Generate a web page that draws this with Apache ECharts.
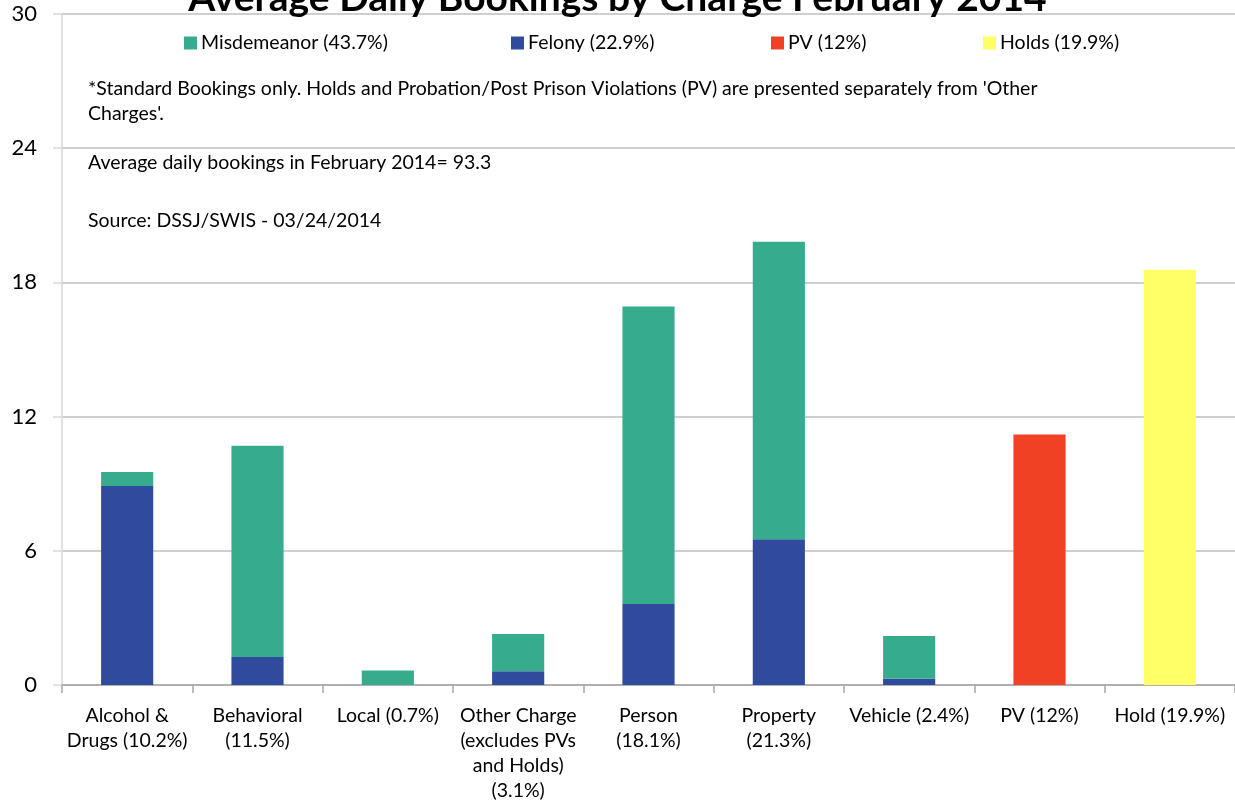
<!DOCTYPE html>
<html>
<head>
<meta charset="utf-8">
<script src="https://cdn.jsdelivr.net/npm/echarts@6/dist/echarts.min.js"></script>
<style>
html,body{margin:0;padding:0;background:#fff;}
#chart{width:1235px;height:803px;}
</style>
</head>
<body>
<div id="chart"></div>
<script>
var categories = [
  'Alcohol &\nDrugs (10.2%)',
  'Behavioral\n(11.5%)',
  'Local (0.7%)',
  'Other Charge\n(excludes PVs\nand Holds)\n(3.1%)',
  'Person\n(18.1%)',
  'Property\n(21.3%)',
  'Vehicle (2.4%)',
  'PV (12%)',
  'Hold (19.9%)'
];
var felony =       [8.90, 1.25, 0,    0.62, 3.62, 6.52, 0.28, 0,    0];
var misdemeanor =  [0.62, 9.45, 0.65, 1.66, 13.30, 13.30, 1.91, 0,  0];
var pv =           [0,    0,    0,    0,    0,    0,    0,    11.2, 0];
var holds =        [0,    0,    0,    0,    0,    0,    0,    0,    18.57];
var seriesNames = ['Misdemeanor (43.7%)', 'Felony (22.9%)', 'PV (12%)', 'Holds (19.9%)'];
var yTicks = [0, 6, 12, 18, 24, 30];
var titleText = 'Average Daily Bookings by Charge February 2014';
var notes = [
  "*Standard Bookings only. Holds and Probation/Post Prison Violations (PV) are presented separately from 'Other",
  "Charges'.",
  "Average daily bookings in February 2014= 93.3",
  "Source: DSSJ/SWIS - 03/24/2014"
];

var FONT = 'Lato';
var colors = ['#36AC8D', '#304A9E', '#F04124', '#FFFF66'];
var legendLefts = [184, 511, 771, 983];
var noteYs = [90, 115, 164, 222];

var chart = echarts.init(document.getElementById('chart'), null, {renderer: 'canvas'});

function legendFor(i) {
  return {
    data: [seriesNames[i]],
    left: legendLefts[i],
    top: 33,
    padding: 0,
    itemWidth: 13,
    itemHeight: 13,
    icon: 'rect',
    selectedMode: false,
    textStyle: {fontFamily: FONT, fontSize: 19.5, color: '#000', padding: [0, 0, 0, -1]}
  };
}

var option = {
  animation: false,
  backgroundColor: '#fff',
  textStyle: {fontFamily: FONT},
  title: {
    text: titleText,
    left: 'center',
    top: -21,
    padding: 0,
    textStyle: {fontFamily: FONT, fontSize: 39, fontWeight: 'bold', color: '#000'}
  },
  legend: [legendFor(0), legendFor(1), legendFor(2), legendFor(3)],
  graphic: notes.map(function (t, i) {
    return {
      type: 'text',
      left: 88,
      top: noteYs[i] - 11,
      style: {text: t, fontFamily: FONT, fontSize: 19.5, fill: '#000'}
    };
  }),
  grid: {left: 62, right: 0, top: 14, bottom: 117, containLabel: false},
  xAxis: {
    type: 'category',
    data: categories,
    axisLine: {show: true, lineStyle: {color: '#A6A6A6', width: 1.5}},
    axisTick: {show: true, length: 8, lineStyle: {color: '#A6A6A6', width: 1.5}},
    axisLabel: {
      interval: 0,
      margin: 18,
      fontFamily: FONT,
      fontSize: 19.5,
      lineHeight: 25,
      color: '#000',
      align: 'center'
    }
  },
  yAxis: {
    type: 'value',
    min: 0,
    max: 30,
    interval: 6,
    axisLine: {show: true, lineStyle: {color: '#D9D9D9', width: 1.5}},
    axisTick: {show: true, length: 9, lineStyle: {color: '#D9D9D9', width: 1.5}},
    splitLine: {show: true, lineStyle: {color: '#BFBFBF', width: 1.5}},
    axisLabel: {
      margin: 25,
      fontFamily: FONT,
      fontSize: 22,
      color: '#000',
      formatter: function (v) { return yTicks.indexOf(v) >= 0 ? String(v) : ''; }
    }
  },
  series: [
    {name: seriesNames[1], type: 'bar', stack: 'total', data: felony, barWidth: '40%', itemStyle: {color: colors[1]}},
    {name: seriesNames[0], type: 'bar', stack: 'total', data: misdemeanor, itemStyle: {color: colors[0]}},
    {name: seriesNames[2], type: 'bar', stack: 'total', data: pv, itemStyle: {color: colors[2]}},
    {name: seriesNames[3], type: 'bar', stack: 'total', data: holds, itemStyle: {color: colors[3]}}
  ]
};
chart.setOption(option);
</script>
</body>
</html>
